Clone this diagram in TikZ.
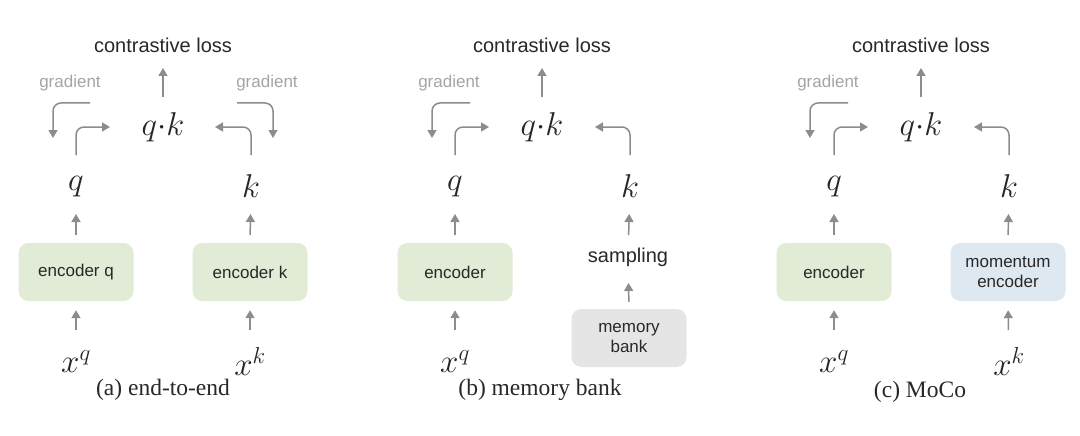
\RequirePackage{fix-cm}
\documentclass[tikz,border=0pt]{standalone}
\usepackage{fontspec}
\newfontfamily\sffont{Liberation Sans}
\newfontfamily\capfont{Liberation Serif}
\usetikzlibrary{arrows.meta,positioning}
\definecolor{arrgray}{RGB}{140,140,140}
\definecolor{gradgray}{RGB}{165,165,165}
\definecolor{txtdark}{RGB}{40,40,40}
\definecolor{encgreen}{RGB}{226,235,214}
\definecolor{bankgray}{RGB}{229,229,229}
\definecolor{momblue}{RGB}{221,232,241}
\tikzset{
  arr/.style={-{Triangle[length=8pt,width=9pt]},line width=1.5pt,arrgray},
  elbow/.style={arr,rounded corners=8pt},
  lossnode/.style={font=\sffont\fontsize{20}{24}\selectfont,text=txtdark},
  gradnode/.style={font=\sffont\fontsize{17}{20}\selectfont,text=gradgray},
  vecnode/.style={font=\fontsize{33}{38}\selectfont,text=black!85},
  encbox/.style={rounded corners=10pt,minimum width=115pt,minimum height=58pt,
    font=\sffont\fontsize{17}{20}\selectfont,text=txtdark,align=center,fill=encgreen},
  capnode/.style={font=\capfont\fontsize{23.5}{28}\selectfont,text=txtdark}
}

\begin{document}
\begin{tikzpicture}[x=1pt,y=-1pt]
\useasboundingbox[fill=white] (0,0) rectangle (1080,436);

% (a) end-to-end
\node[lossnode] (lossa) at (163,45) {contrastive loss};
\node[vecnode] (qka) at (163,127) {$q{\cdot}k$};
\node[vecnode] (qa) at (76,187) {$q$};
\node[vecnode] (ka) at (251,186) {$k$};
\node[encbox] (encqa) at (76,272) {encoder q};
\node[encbox] (encka) at (250,272) {encoder k};
\node[vecnode] (xqa) at (76,362) {$x^q$};
\node[vecnode] (xka) at (250,361) {$x^k$};
\node[gradnode] (gla) at (70,83) {gradient};
\node[gradnode] (gra) at (267,83) {gradient};
\node[capnode] (capa) at (163,390) {(a) end-to-end};
\coordinate (gsla) at (90,103);
\coordinate (gela) at (53,138);
\coordinate (gsra) at (237,103);
\coordinate (gera) at (273,138);
\draw[arr,shorten <=30pt,shorten >=23pt] (qka.center) -- (lossa.center);
\draw[elbow,shorten <=32pt,shorten >=53pt] (qa.center) |- (qka.center);
\draw[elbow,shorten <=31pt,shorten >=52pt] (ka.center) |- (qka.center);
\draw[elbow] (gsla) -| (gela);
\draw[elbow] (gsra) -| (gera);
\draw[arr,shorten <=8pt,shorten >=27pt] (encqa.north) -- (qa.center);
\draw[arr,shorten <=8pt,shorten >=28pt] (encka.north) -- (ka.center);
\draw[arr,shorten <=32pt,shorten >=9pt] (xqa.center) -- (encqa.south);
\draw[arr,shorten <=31pt,shorten >=9pt] (xka.center) -- (encka.south);

% (b) memory bank
\node[lossnode] (lossb) at (542,45) {contrastive loss};
\node[vecnode] (qkb) at (542,127) {$q{\cdot}k$};
\node[vecnode] (qb) at (455,187) {$q$};
\node[vecnode] (kb) at (630,186) {$k$};
\node[encbox] (encb) at (455,272) {encoder};
\node[lossnode] (sampb) at (628,257) {sampling};
\node[encbox,fill=bankgray] (bankb) at (629,338) {memory\\bank};
\node[vecnode] (xqb) at (455,362) {$x^q$};
\node[gradnode] (glb) at (449,83) {gradient};
\node[capnode] (capb) at (540,390) {(b) memory bank};
\coordinate (gslb) at (470,103);
\coordinate (gelb) at (432,138);
\draw[arr,shorten <=30pt,shorten >=23pt] (qkb.center) -- (lossb.center);
\draw[elbow,shorten <=32pt,shorten >=53pt] (qb.center) |- (qkb.center);
\draw[elbow,shorten <=31pt,shorten >=53pt] (kb.center) |- (qkb.center);
\draw[elbow] (gslb) -| (gelb);
\draw[arr,shorten <=8pt,shorten >=27pt] (encb.north) -- (qb.center);
\draw[arr,shorten <=22pt,shorten >=28pt] (sampb.center) -- (kb.center);
\draw[arr,shorten <=7pt,shorten >=26pt] (bankb.north) -- (sampb.center);
\draw[arr,shorten <=32pt,shorten >=9pt] (xqb.center) -- (encb.south);

% (c) MoCo
\node[lossnode] (lossc) at (921,45) {contrastive loss};
\node[vecnode] (qkc) at (921,127) {$q{\cdot}k$};
\node[vecnode] (qc) at (834,187) {$q$};
\node[vecnode] (kc) at (1009,186) {$k$};
\node[encbox] (encc) at (834,272) {encoder};
\node[encbox,fill=momblue] (momc) at (1008,272) {momentum\\encoder};
\node[vecnode] (xqc) at (834,362) {$x^q$};
\node[vecnode] (xkc) at (1009,361) {$x^k$};
\node[gradnode] (glc) at (828,83) {gradient};
\node[capnode] (capc) at (920,392) {(c) MoCo};
\coordinate (gslc) at (848,103);
\coordinate (gelc) at (810,138);
\draw[arr,shorten <=30pt,shorten >=23pt] (qkc.center) -- (lossc.center);
\draw[elbow,shorten <=32pt,shorten >=53pt] (qc.center) |- (qkc.center);
\draw[elbow,shorten <=31pt,shorten >=53pt] (kc.center) |- (qkc.center);
\draw[elbow] (gslc) -| (gelc);
\draw[arr,shorten <=8pt,shorten >=27pt] (encc.north) -- (qc.center);
\draw[arr,shorten <=8pt,shorten >=28pt] (momc.north) -- (kc.center);
\draw[arr,shorten <=32pt,shorten >=9pt] (xqc.center) -- (encc.south);
\draw[arr,shorten <=31pt,shorten >=9pt] (xkc.center) -- (momc.south);
\end{tikzpicture}
\end{document}
